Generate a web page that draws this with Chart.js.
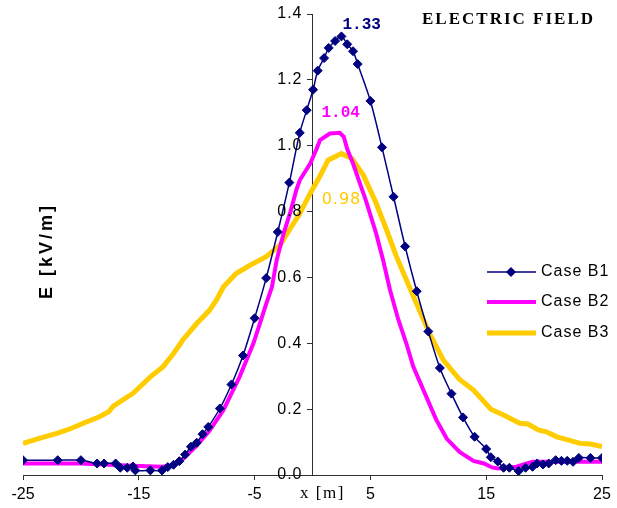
<!DOCTYPE html>
<html>
<head>
<meta charset="utf-8">
<script src="https://cdn.jsdelivr.net/npm/chart.js@4.4.1/dist/chart.umd.min.js"></script>
<style>
    html, body { margin: 0; padding: 0; background: #ffffff; }
    #wrap { width: 617px; height: 508px; }
</style>
</head>
<body>
<div id="wrap"><canvas id="chart" width="617" height="508"></canvas></div>
<script>
// Case B1 - computed points (with markers)
var b1X = [-25, -22, -20, -18.6, -18, -17, -16.6, -16, -15.5, -15.3, -14, -13, -12.5, -12, -11.5, -11, -10.5, -10, -9.5, -9,
           -8, -7, -6, -5, -4, -3, -2, -1.1, -0.5, 0.05, 0.45, 1, 1.4, 1.95, 2.5, 3, 3.5, 3.9, 5, 6,
           7, 8, 9, 10, 11, 12, 13, 14, 15, 15.4, 16, 16.5, 17, 17.8, 18.4, 19, 19.4, 19.9, 20.4, 21,
           21.5, 22, 22.5, 23, 24, 25];
var b1Y = [0.045, 0.045, 0.045, 0.035, 0.035, 0.035, 0.022, 0.022, 0.026, 0.014, 0.014, 0.014, 0.024, 0.031, 0.042, 0.062, 0.086, 0.098, 0.124, 0.146,
           0.202, 0.275, 0.363, 0.476, 0.598, 0.738, 0.888, 1.039, 1.108, 1.17, 1.228, 1.266, 1.297, 1.318, 1.332, 1.308, 1.287, 1.248, 1.136, 0.995,
           0.845, 0.694, 0.558, 0.436, 0.325, 0.247, 0.175, 0.116, 0.079, 0.054, 0.041, 0.022, 0.022, 0.012, 0.022, 0.025, 0.035, 0.032, 0.035, 0.045,
           0.043, 0.043, 0.040, 0.052, 0.052, 0.052];

// Case B2
var b2X = [-25, -20, -17, -15, -13, -12, -11.2, -10, -8.9, -7.7, -6.3, -5.1, -4.4, -4, -3.5, -3.1, -2.5, -1.9, -1.4, -1.1,
           -0.2, 0.35, 0.65, 1.5, 2.35, 2.7, 3, 3.5, 4.1, 4.6, 5.5, 6.1, 6.7, 7.4, 8.1, 8.7, 9.7, 10.7, 11.6, 12.7,
           13.9, 14.8, 15.5, 16, 17.6, 19, 25];
var b2Y = [0.035, 0.035, 0.03, 0.027, 0.025, 0.03, 0.048, 0.089, 0.134, 0.197, 0.298, 0.4, 0.476, 0.52, 0.571, 0.652, 0.733, 0.8, 0.865, 0.895,
           0.946, 0.99, 1.017, 1.037, 1.039, 1.027, 0.99, 0.946, 0.885, 0.835, 0.733, 0.652, 0.561, 0.473, 0.4, 0.329, 0.248, 0.167, 0.11, 0.07,
           0.043, 0.035, 0.023, 0.02, 0.025, 0.04, 0.04];

// Case B3
var b3X = [-25, -23.3, -22, -20.8, -19.8, -18.4, -17.6, -17.2, -16.3, -15.5, -14.6, -14, -12.9, -12, -11.2, -10, -8.9, -8.3, -7.7, -6.6,
           -5.4, -4, -2.8, -2, -1.1, -0.2, 0.6, 1.35, 2.5, 3.4, 4.4, 5.5, 6.4, 7.25, 8.5, 9.3, 10.1, 11.3, 12.7, 13.9,
           15.4, 16.5, 17.9, 18.6, 19.5, 20.2, 21.1, 21.9, 23.1, 24, 25];
var b3Y = [0.096, 0.114, 0.127, 0.142, 0.157, 0.177, 0.192, 0.209, 0.23, 0.248, 0.278, 0.298, 0.329, 0.369, 0.41, 0.46, 0.5, 0.531, 0.571, 0.612,
           0.637, 0.663, 0.698, 0.744, 0.794, 0.855, 0.905, 0.956, 0.976, 0.961, 0.91, 0.825, 0.744, 0.663, 0.56, 0.495, 0.43, 0.349, 0.29, 0.258,
           0.2, 0.182, 0.157, 0.155, 0.137, 0.131, 0.116, 0.108, 0.096, 0.094, 0.086];

var seriesNames = ['Case B1', 'Case B2', 'Case B3'];
var xTicks = [-25, -15, -5, 5, 15, 25];
var yTicks = [0, 0.2, 0.4, 0.6, 0.8, 1.0, 1.2, 1.4];

function pts(xs, ys) {
    var out = [];
    for (var i = 0; i < xs.length; i++) out.push({x: xs[i], y: ys[i]});
    return out;
}

// y tick labels, peak labels, title, axis titles and legend
const extras = {
    id: 'extras',
    afterDraw(chart) {
        const ctx = chart.ctx;
        const xs = chart.scales.x, ys = chart.scales.y;
        ctx.save();

        // y tick labels, left of the axis that sits at x = 0
        const axisX = xs.getPixelForValue(0);
        ctx.fillStyle = '#000000';
        ctx.font = '16px "Liberation Sans"';
        ctx.letterSpacing = '1px';
        ctx.textAlign = 'right';
        ctx.textBaseline = 'middle';
        yTicks.forEach(function (v) {
            ctx.fillText(v.toFixed(1), axisX - 10, ys.getPixelForValue(v));
        });

        // peak value labels
        const peakStyle = [
            {font: 'bold 16px "Liberation Mono"', align: 'left', dx: 1, dy: -11, sp: '0px'},
            {font: 'bold 16px "Liberation Mono"', align: 'center', dx: 1, dy: -20, sp: '0px'},
            {font: '16px "DejaVu Sans"', align: 'center', dx: 0, dy: 46, sp: '1px'}
        ];
        chart.data.datasets.forEach(function (ds, i) {
            let best = ds.data[0];
            ds.data.forEach(function (p) { if (p.y > best.y) best = p; });
            const st = peakStyle[i];
            ctx.font = st.font;
            ctx.letterSpacing = st.sp;
            ctx.fillStyle = ds.borderColor;
            ctx.textAlign = st.align;
            ctx.textBaseline = 'middle';
            ctx.fillText(best.y.toFixed(2), xs.getPixelForValue(best.x) + st.dx, ys.getPixelForValue(best.y) + st.dy);
        });

        // chart title
        ctx.fillStyle = '#000000';
        ctx.font = 'bold 17px "Liberation Serif"';
        ctx.letterSpacing = '2px';
        ctx.textAlign = 'left';
        ctx.fillText('ELECTRIC FIELD', 422, 20);

        // x axis title
        ctx.font = '17px "Liberation Serif"';
        ctx.letterSpacing = '1.5px';
        ctx.fillText('x [m]', 300, 494);

        // y axis title
        ctx.save();
        ctx.translate(47, 251);
        ctx.rotate(-Math.PI / 2);
        ctx.font = 'bold 18px "Liberation Sans"';
        ctx.letterSpacing = '3px';
        ctx.textAlign = 'center';
        ctx.fillText('E [kV/m]', 0, 0);
        ctx.restore();

        // legend
        const legY = [272, 302, 333];
        chart.data.datasets.forEach(function (ds, i) {
            const y = legY[i];
            ctx.strokeStyle = ds.borderColor;
            ctx.lineWidth = ds.borderWidth;
            ctx.beginPath();
            ctx.moveTo(487, y);
            ctx.lineTo(536, y);
            ctx.stroke();
            if (ds.pointRadius > 0) {
                ctx.fillStyle = ds.pointBackgroundColor;
                ctx.beginPath();
                ctx.moveTo(511, y - 5);
                ctx.lineTo(516, y);
                ctx.lineTo(511, y + 5);
                ctx.lineTo(506, y);
                ctx.closePath();
                ctx.fill();
            }
            ctx.fillStyle = '#000000';
            ctx.font = '16px "Liberation Sans"';
            ctx.letterSpacing = '1px';
            ctx.textAlign = 'left';
            ctx.textBaseline = 'middle';
            ctx.fillText(ds.label, 541, y);
        });
        ctx.restore();
    }
};

new Chart(document.getElementById('chart'), {
    type: 'scatter',
    data: {
        datasets: [
            {
                label: seriesNames[0],
                data: pts(b1X, b1Y),
                showLine: true,
                borderColor: '#000080',
                backgroundColor: '#000080',
                pointBackgroundColor: '#000080',
                pointBorderColor: '#000080',
                borderWidth: 1.5,
                pointStyle: 'rectRot',
                pointRadius: 4.5,
                pointBorderWidth: 1,
                tension: 0.3
            },
            {
                label: seriesNames[1],
                data: pts(b2X, b2Y),
                showLine: true,
                borderColor: '#FF00FF',
                backgroundColor: '#FF00FF',
                borderWidth: 4,
                pointRadius: 0,
                tension: 0
            },
            {
                label: seriesNames[2],
                data: pts(b3X, b3Y),
                showLine: true,
                borderColor: '#FFCC00',
                backgroundColor: '#FFCC00',
                borderWidth: 5,
                pointRadius: 0,
                tension: 0
            }
        ]
    },
    options: {
        responsive: false,
        animation: false,
        events: [],
        layout: { padding: { left: 23, right: 15, top: 14, bottom: 0 } },
        plugins: {
            legend: { display: false },
            tooltip: { enabled: false },
            title: { display: false }
        },
        scales: {
            x: {
                type: 'linear',
                min: -25, max: 25,
                afterBuildTicks: function (scale) { scale.ticks = xTicks.map(function (v) { return {value: v}; }); },
                afterFit: function (scale) { scale.height = 33; },
                border: { color: '#303030', width: 1 },
                grid: { drawOnChartArea: false, drawTicks: true, tickLength: 5, color: '#303030' },
                ticks: {
                    font: { family: '"Liberation Sans"', size: 16 },
                    color: '#000000',
                    maxRotation: 0,
                    padding: 5
                }
            },
            y: {
                type: 'linear',
                position: { x: 0 },
                min: 0, max: 1.4,
                afterBuildTicks: function (scale) { scale.ticks = yTicks.map(function (v) { return {value: v}; }); },
                border: { color: '#303030', width: 1 },
                grid: { drawOnChartArea: false, drawTicks: true, tickLength: 5, color: '#303030' },
                ticks: { display: false }
            }
        }
    },
    plugins: [extras]
});
</script>
</body>
</html>
